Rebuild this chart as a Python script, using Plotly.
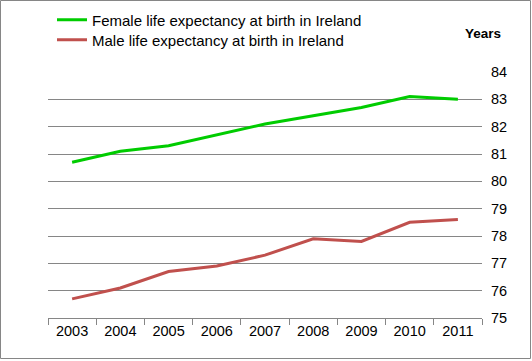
import plotly.graph_objects as go

years = ["2003", "2004", "2005", "2006", "2007", "2008", "2009", "2010", "2011"]
female = [80.7, 81.1, 81.3, 81.7, 82.1, 82.4, 82.7, 83.1, 83.0]
male = [75.7, 76.1, 76.7, 76.9, 77.3, 77.9, 77.8, 78.5, 78.6]
y_ticks = [75, 76, 77, 78, 79, 80, 81, 82, 83, 84]

W, H = 532, 361
ML, MR, MT, MB = 48, 50, 72, 43
PW, PH = W - ML - MR, H - MT - MB

FONT = "Liberation Sans"

fig = go.Figure()
fig.add_trace(go.Scatter(x=years, y=female, mode="lines", legend="legend",
                         name="Female life expectancy at birth in Ireland",
                         line=dict(color="#00CC00", width=3)))
fig.add_trace(go.Scatter(x=years, y=male, mode="lines", legend="legend2",
                         name="Male life expectancy at birth in Ireland",
                         line=dict(color="#C0504D", width=3)))

def leg(ypix):
    return dict(x=(52 - ML) / PW, y=1 + (MT - ypix) / PH, xanchor="left",
                yanchor="middle", bgcolor="rgba(0,0,0,0)", font=dict(size=15),
                itemwidth=30)

fig.update_layout(
    width=W, height=H,
    margin=dict(l=ML, r=MR, t=MT, b=MB, autoexpand=False),
    paper_bgcolor="white", plot_bgcolor="white",
    font=dict(family=FONT, size=14, color="#000000"),
    showlegend=True,
    legend=leg(20),
    legend2=leg(40),
    xaxis=dict(type="category", range=[-0.5, 8.5], showgrid=False, showline=True,
               linecolor="#868686", linewidth=1, ticks="outside", tickson="boundaries",
               ticklen=6, tickcolor="#868686", tickfont=dict(size=14.5), zeroline=False),
    yaxis=dict(side="right", range=[75, 84], tickvals=y_ticks, showgrid=True,
               gridcolor="#868686", gridwidth=1, showline=False, ticks="",
               tickfont=dict(size=14.5), zeroline=False, ticklabelstandoff=8),
    annotations=[dict(text="<b>Years</b>", xref="paper", yref="paper",
                      x=(503 - ML) / PW, y=1 + (MT - 33) / PH, xanchor="right",
                      yanchor="middle", showarrow=False, font=dict(size=13.5))],
    shapes=[dict(type="rect", xref="paper", yref="paper",
                 x0=(0.5 - ML) / PW, x1=(W - 1.5 - ML) / PW,
                 y0=-(MB - 2.5) / PH, y1=1 + (MT - 0.5) / PH,
                 line=dict(color="#868686", width=1), layer="above")],
)

fig.write_html("out.html", config={"displayModeBar": False},
               post_script="document.body.style.margin='0';document.body.style.overflow='hidden';")
